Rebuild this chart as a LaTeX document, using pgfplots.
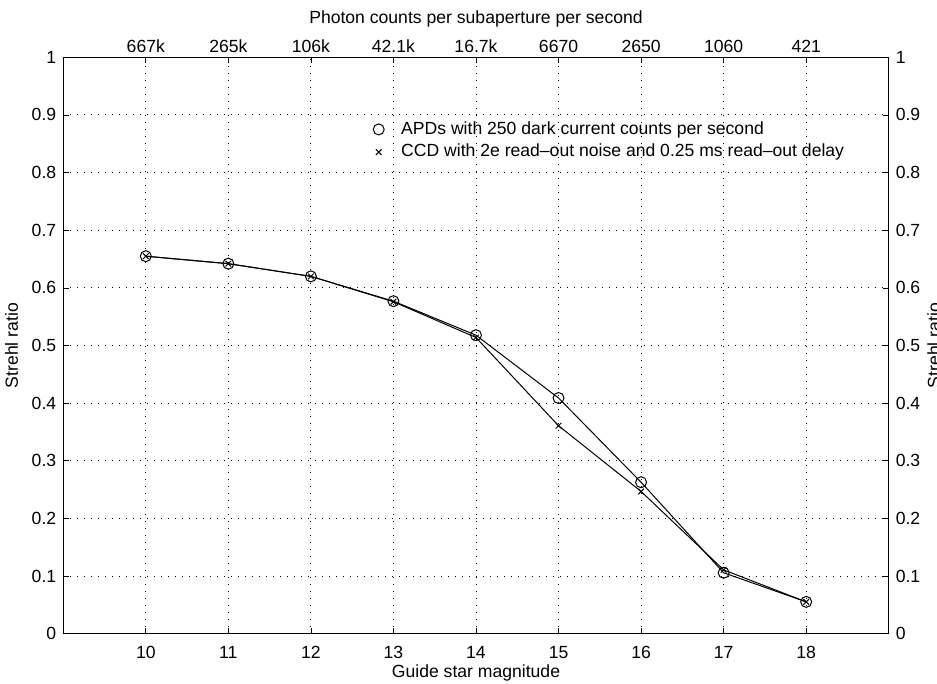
\documentclass[border=0pt]{standalone}
\usepackage{fontspec}
\setmainfont{Liberation Sans}
\usepackage{pgfplots}
\usepackage{pgfplotstable}
\pgfplotsset{compat=1.18}
\usetikzlibrary{calc}

% Strehl ratio versus guide star magnitude for the two detector types
\pgfplotstableread{
mag  apd     ccd
10   0.655   0.655
11   0.642   0.642
12   0.620   0.620
13   0.577   0.576
14   0.518   0.514
15   0.409   0.361
16   0.263   0.247
17   0.106   0.111
18   0.0555  0.0555
}\strehl

\newcommand\labelfont{\fontsize{8.8}{10.5}\selectfont}

\pgfplotsset{
  common/.style={
    scale only axis, width=413pt, height=288.5pt,
    xmin=9, xmax=19, ymin=0, ymax=1,
    xtick={10,11,12,13,14,15,16,17,18},
    ytick={0,0.1,0.2,0.3,0.4,0.5,0.6,0.7,0.8,0.9,1},
    tick align=inside, major tick length=3pt,
    tick style={black, line width=0.4pt},
    axis line style={black, line width=0.5pt},
    /pgf/number format/assume math mode=true,
    every tick label/.append style={font=\labelfont},
    label style={font=\labelfont},
  },
}

\begin{document}
\begin{tikzpicture}[font=\labelfont]
\begin{axis}[common, name=ax,
  xticklabel pos=left, yticklabel pos=left,
  xticklabel style={yshift=-2.5pt},
  xlabel style={yshift=3.5pt},
  grid=major,
  major grid style={black, line width=0.45pt, dash pattern=on 0.5pt off 3pt},
  xlabel={Guide star magnitude},
  ylabel={Strehl ratio},
  legend style={draw=none, fill=none, at={(axis cs:12.75,0.894)},
    anchor=north west, inner sep=0pt, row sep=0.7pt, column sep=7.5pt,
    nodes={inner sep=1pt, text height=6.75pt, text depth=1.9pt},
    font=\labelfont},
  legend cell align=left,
  legend image code/.code={\draw[#1, only marks] plot coordinates {(0pt,0pt)};},
]
\addplot[black, line width=0.5pt, mark=o, mark size=2.75pt,
  mark options={solid, line width=0.5pt}] table[x=mag, y=apd] {\strehl};
\addlegendentry{APDs with 250 dark current counts per second}
\addplot[black, line width=0.5pt, mark=x, mark size=2pt,
  mark options={solid, line width=0.5pt}] table[x=mag, y=ccd] {\strehl};
\addlegendentry{CCD with 2e read\textendash out noise and 0.25 ms read\textendash out delay}
\end{axis}

% photon count scale on top, repeated Strehl scale on the right
\begin{axis}[common,
  xticklabel pos=right, yticklabel pos=right,
  xticklabel style={yshift=-1pt},
  xlabel style={yshift=-0.75pt},
  xticklabels={667k,265k,106k,42.1k,16.7k,6670,2650,1060,421},
  xlabel={Photon counts per subaperture per second},
  ylabel={Strehl ratio},
  ylabel style={at={(axis description cs:1.0464,0.5)}, anchor=north,
    rotate=0, inner sep=0pt},
]
\addplot[draw=none] coordinates {(10,0)};
\end{axis}

\pgfresetboundingbox
\useasboundingbox ($(ax.south west)+(-31.65pt,-24.85pt)$) rectangle ($(ax.north east)+(24.15pt,28.65pt)$);
\end{tikzpicture}
\end{document}
